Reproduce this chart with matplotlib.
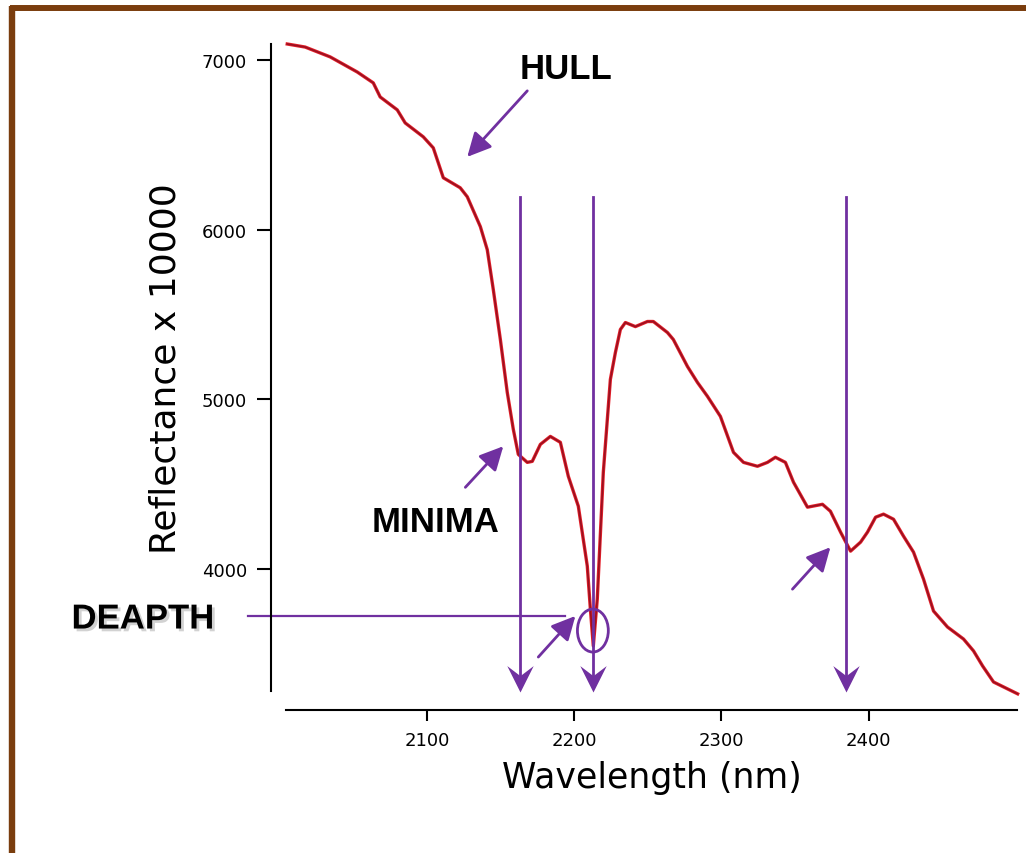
import matplotlib
matplotlib.use("Agg")
import matplotlib.pyplot as plt
import matplotlib.patheffects as pe
from matplotlib.lines import Line2D
from matplotlib.patches import Ellipse
from matplotlib.path import Path

# ---- data ----
wavelength = [2004.8, 2017.0, 2034.0, 2052.4, 2063.3, 2068.0, 2079.6, 2085.0, 2097.3, 2104.1,
              2107.5, 2110.9, 2122.4, 2127.2, 2136.1, 2140.8, 2144.9, 2149.7, 2154.4, 2158.5,
              2161.9, 2168.0, 2171.4, 2176.9, 2183.7, 2190.5, 2195.9, 2202.7, 2208.8, 2210.9,
              2212.9, 2215.6, 2219.7, 2224.5, 2227.9, 2231.3, 2234.7, 2241.5, 2249.7, 2253.7,
              2263.3, 2267.3, 2276.9, 2283.7, 2290.5, 2299.3, 2308.2, 2315.0, 2324.5, 2331.3,
              2336.7, 2343.5, 2349.0, 2358.5, 2368.7, 2374.1, 2381.0, 2387.8, 2394.6, 2399.3,
              2404.8, 2410.2, 2417.0, 2423.8, 2430.6, 2437.4, 2444.2, 2453.7, 2464.6, 2471.4,
              2477.6, 2485.0, 2501.4]
reflectance = [7094, 7076, 7018, 6929, 6865, 6782, 6706, 6629, 6547, 6482,
               6394, 6306, 6247, 6194, 6018, 5882, 5647, 5353, 5041, 4824,
               4676, 4629, 4635, 4735, 4782, 4747, 4547, 4371, 4018, 3765,
               3547, 3824, 4571, 5118, 5276, 5412, 5453, 5429, 5459, 5459,
               5394, 5353, 5194, 5100, 5018, 4900, 4688, 4629, 4606, 4629,
               4659, 4629, 4512, 4365, 4382, 4341, 4218, 4106, 4159, 4218,
               4306, 4324, 4294, 4194, 4100, 3941, 3753, 3659, 3588, 3518,
               3429, 3335, 3265]
x_ticks = [2100, 2200, 2300, 2400]
y_ticks = [4000, 5000, 6000, 7000]
minima_wavelengths = [2163.3, 2212.7, 2385.0]

PURPLE = "#7030A0"
BROWN = "#7A3D0E"

fig = plt.figure(figsize=(10.26, 8.54), dpi=100)
fig.patch.set_facecolor("white")
ax = fig.add_axes([0.2788, 0.1897, 0.7125, 0.7576])

# frame (top and left brown border)
fig.add_artist(Line2D([0.0098, 1.0], [0.9890, 0.9890], color=BROWN, lw=4.3,
                      transform=fig.transFigure, solid_capstyle="butt"))
fig.add_artist(Line2D([0.0117, 0.0117], [0.0, 0.992], color=BROWN, lw=4.6,
                      transform=fig.transFigure, solid_capstyle="butt"))

# spectrum
ax.plot(wavelength, reflectance, color="#9b1020", lw=1.2, clip_on=False, zorder=3,
        path_effects=[pe.Stroke(linewidth=2.4, foreground="#e5202a"), pe.Normal()])

ax.set_xlim(2004, 2501)
ax.set_ylim(3282, 7094)
ax.set_xticks(x_ticks)
ax.set_yticks(y_ticks)
ax.tick_params(axis="y", length=10, width=1.5, pad=7, labelsize=13, direction="out")
ax.tick_params(axis="x", length=8, width=1.5, pad=7, labelsize=13, direction="out")

for s in ["top", "right"]:
    ax.spines[s].set_visible(False)
ax.spines["left"].set_position(("outward", 11))
ax.spines["bottom"].set_position(("outward", 14))
ax.spines["left"].set_linewidth(1.5)
ax.spines["bottom"].set_linewidth(1.5)
ax.set_facecolor("none")

ax.set_xlabel("Wavelength (nm)", fontsize=25, labelpad=8)
ax.set_ylabel("Reflectance x 10000", fontsize=26, labelpad=14)

# vertical arrows at minima (line + notched arrow head)
notched_head = Path([(0, 0), (-0.5, 1.0), (0, 0.62), (0.5, 1.0), (0, 0)],
                    [Path.MOVETO, Path.LINETO, Path.LINETO, Path.LINETO, Path.CLOSEPOLY])
for xm in minima_wavelengths:
    ax.plot([xm, xm], [6190, 3330], color=PURPLE, lw=2, clip_on=False, zorder=4)
    ax.plot([xm], [3276], marker=notched_head, markersize=38, color=PURPLE,
            markeredgewidth=0, clip_on=False, zorder=4)

# small pointing arrows
small_arrows = [((2168.0, 6818), (2127.2, 6429)),
                ((2125.9, 4482), (2151.7, 4724)),
                ((2175.5, 3482), (2200.7, 3724)),
                ((2348.3, 3882), (2374.1, 4129))]
for tail, head in small_arrows:
    ax.annotate("", xy=head, xytext=tail,
                arrowprops=dict(arrowstyle="-|>,head_length=1.2,head_width=0.6",
                                color=PURPLE, lw=2, mutation_scale=12,
                                shrinkA=0, shrinkB=0),
                annotation_clip=False)

# depth line and ellipse
ax.plot([1978, 2193.9], [3723, 3723], color=PURPLE, lw=1.6, clip_on=False)
ax.add_patch(Ellipse((2212.6, 3638), 21, 253, fill=False, edgecolor=PURPLE, lw=2,
                     clip_on=False, zorder=4))

# labels
bold = dict(fontsize=25, fontweight="bold", family="Liberation Sans",
            ha="center", va="center", color="black")
ax.text(2194.6, 6947, "HULL", **bold)
ax.text(2105.4, 4282, "MINIMA", **bold)
ax.text(1906.8, 3706, "DEAPTH", clip_on=False,
        path_effects=[pe.SimplePatchShadow(offset=(2, -2), shadow_rgbFace="gray", alpha=0.35),
                      pe.Normal()], **bold)

fig.savefig("out.png", dpi=100)
